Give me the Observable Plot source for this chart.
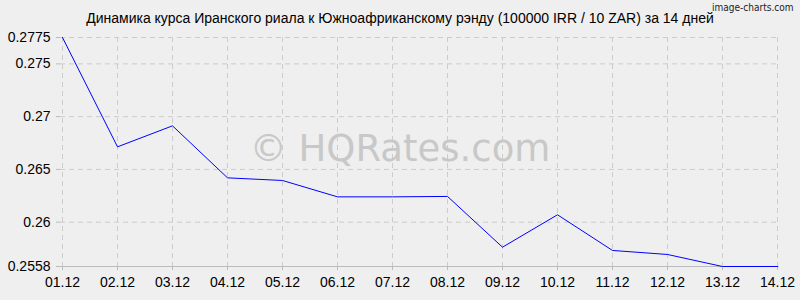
<!DOCTYPE html>
<html><head><meta charset="utf-8">
<script src="https://cdn.jsdelivr.net/npm/d3@7"></script>
<script src="https://cdn.jsdelivr.net/npm/@observablehq/plot@0.6"></script>
<style>
html,body{margin:0;padding:0;background:#efefef;}
#chart svg{display:block;}
</style>
</head><body><div id="chart"></div>
<script>
const dates = ["01.12","02.12","03.12","04.12","05.12","06.12","07.12","08.12","09.12","10.12","11.12","12.12","13.12","14.12"];
const rates = [0.2775,0.26714,0.26913,0.2642,0.26395,0.2624,0.2624,0.26244,0.25763,0.2607,0.25732,0.25694,0.2558,0.2558];
const yTicks = [0.2558,0.26,0.265,0.27,0.275,0.2775];
const yTickLabels = ["0.2558","0.26","0.265","0.27","0.275","0.2775"];
const titleText = "Динамика курса Иранского риала к Южноафриканскому рэнду (100000 IRR / 10 ZAR) за 14 дней";
const watermark = "© HQRates.com";
const credit = "image-charts.com";

const data = dates.map((d,i)=>({date:d, rate:rates[i]}));
const gridY = yTicks.slice(1);

const chart = Plot.plot({
  width: 800, height: 300,
  marginLeft: 60, marginRight: 21, marginTop: 37, marginBottom: 34,
  style: {background:"#efefef", fontFamily:"Liberation Sans, Arial, sans-serif", fontSize:"14px", color:"#000"},
  x: {type:"point", domain: dates, padding: 0, axis: null},
  y: {type:"linear", domain:[0.2558,0.2775], axis: null},
  marks: [
    Plot.ruleX(dates, {x: d=>d, stroke:"#cccccc", strokeOpacity:1, strokeDasharray:"5,4"}),
    Plot.ruleY(gridY, {y: d=>d, stroke:"#cccccc", strokeOpacity:1, strokeDasharray:"5,4"}),
    Plot.ruleY([0.2558], {y: d=>d, stroke:"#bbbbbb"}),
    Plot.axisX({tickSize: 4, tickPadding: 7, stroke:"#bbbbbb", fontSize:14, fill:"#000", label: null}),
    Plot.axisY(yTicks, {tickFormat: d=>yTickLabels[yTicks.indexOf(d)], tickSize: 4, tickPadding: 6, stroke:"#bbbbbb", fontSize:14, fill:"#000", label: null}),
    Plot.text([watermark], {frameAnchor:"middle", dx: -20, dy: -3, fontSize: 37, fill:"#c8c8c8", fontFamily:"DejaVu Sans, sans-serif"}),
    Plot.line(data, {x:"date", y:"rate", stroke:"#0000ff", strokeWidth:1}),
    Plot.text([titleText], {frameAnchor:"top", lineAnchor:"middle", dx: -20, dy: -19, fontSize: 14, fill:"#000"}),
    Plot.text([credit], {frameAnchor:"top-right", lineAnchor:"middle", dx: 14, dy: -30, textAnchor:"end", fontSize: 10, fill:"#222", fontFamily:"DejaVu Sans Condensed, sans-serif"})
  ]
});
document.getElementById("chart").appendChild(chart);
</script>
</body></html>
